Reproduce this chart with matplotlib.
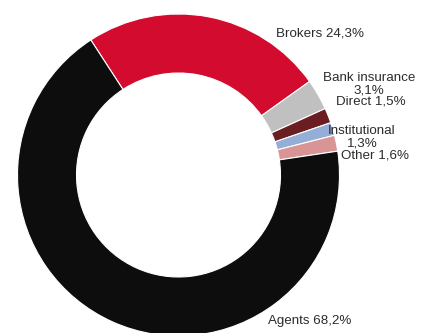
import numpy as np
import matplotlib.pyplot as plt

# distribution channels, share of premiums (%)
channels = ['Brokers', 'Bank insurance', 'Direct', 'Institutional', 'Other', 'Agents']
shares = [24.3, 3.1, 1.5, 1.3, 1.6, 68.2]
colors = ['#D20B2F', '#C0C0C0', '#6A1E22', '#95AED8', '#D99596', '#0D0D0D']

plt.rcParams['font.family'] = ['Liberation Sans', 'DejaVu Sans']

fig = plt.figure(figsize=(4.22, 3.33), dpi=100)
ax = fig.add_axes([0, 0, 1, 1])

# pixel-like coordinates, y pointing up
cx, cy = 178.5, 333 - 175
r_out, r_in = 161, 102

ax.pie(shares, colors=colors, startangle=123, counterclock=False,
       center=(cx, cy), radius=r_out,
       wedgeprops=dict(width=r_out - r_in, edgecolor='white', linewidth=0.8))

ax.set_xlim(0, 422)
ax.set_ylim(0, 333)
ax.set_aspect('equal')
ax.axis('off')

def pct(v):
    return f'{v:.1f}'.replace('.', ',') + '%'

# label placement (x, y from top, alignment)
label_pos = {
    'Brokers': (276, 33, 'left'),
    'Bank insurance': (369, 84, 'center'),
    'Direct': (336, 102, 'left'),
    'Institutional': (362, 137, 'center'),
    'Other': (341, 155, 'left'),
    'Agents': (268, 321, 'left'),
}
two_line = {'Bank insurance', 'Institutional'}

for name, v in zip(channels, shares):
    x, y, ha = label_pos[name]
    sep = '\n' if name in two_line else ' '
    ax.text(x, 333 - y, name + sep + pct(v), ha=ha, va='center',
            fontsize=9.6, color='#2b2b2b', linespacing=1.1)

fig.savefig('out.png', dpi=100)
